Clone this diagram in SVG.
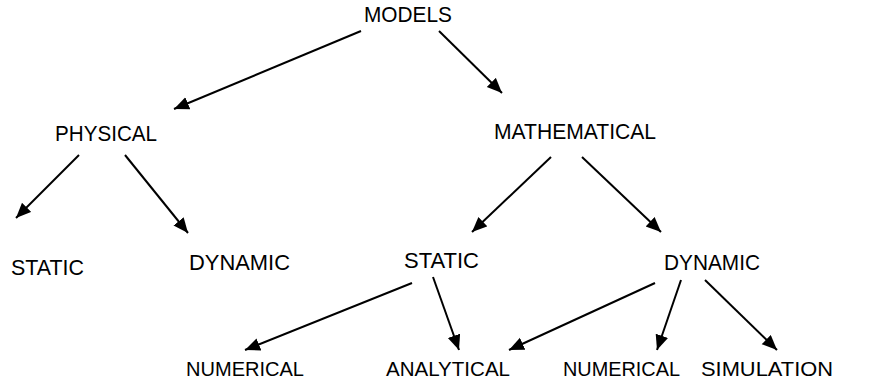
<svg xmlns="http://www.w3.org/2000/svg" width="886" height="381" viewBox="0 0 886 381">
<style>
text{font-family:"Liberation Sans",Arial,sans-serif;font-size:21.5px;fill:#000}
.b{font-size:21px}
.c line{stroke:#000;stroke-width:2;marker-end:url(#ah)}
</style>
<defs>
<marker id="ah" markerUnits="userSpaceOnUse" markerWidth="16" markerHeight="14" refX="15" refY="6.5" orient="auto">
<path d="M0,0 L15,6.5 L0,13 z" fill="#000"/>
</marker>
</defs>
<rect width="886" height="381" fill="#fff"/>
<g id="models"><text x="364" y="22" textLength="88" lengthAdjust="spacingAndGlyphs">MODELS</text></g>
<g id="physical"><text x="55" y="141" textLength="102" lengthAdjust="spacingAndGlyphs">PHYSICAL</text></g>
<g id="mathematical"><text x="494" y="139" textLength="162" lengthAdjust="spacingAndGlyphs">MATHEMATICAL</text></g>
<g id="static-phys"><text x="11" y="275" textLength="73" lengthAdjust="spacingAndGlyphs">STATIC</text></g>
<g id="dynamic-phys"><text x="189" y="270" textLength="101" lengthAdjust="spacingAndGlyphs">DYNAMIC</text></g>
<g id="static-math"><text x="404" y="268" textLength="75" lengthAdjust="spacingAndGlyphs">STATIC</text></g>
<g id="dynamic-math"><text x="664" y="270" textLength="96" lengthAdjust="spacingAndGlyphs">DYNAMIC</text></g>
<g id="numerical-1"><text class="b" x="186" y="376" textLength="118" lengthAdjust="spacingAndGlyphs">NUMERICAL</text></g>
<g id="analytical"><text class="b" x="386" y="376" textLength="124" lengthAdjust="spacingAndGlyphs">ANALYTICAL</text></g>
<g id="numerical-2"><text class="b" x="563" y="376" textLength="117" lengthAdjust="spacingAndGlyphs">NUMERICAL</text></g>
<g id="simulation"><text class="b" x="701" y="376" textLength="132" lengthAdjust="spacingAndGlyphs">SIMULATION</text></g>
<g id="connectors" class="c">
<line x1="361" y1="31" x2="174" y2="109"/>
<line x1="439" y1="31" x2="502" y2="93"/>
<line x1="79" y1="155" x2="16" y2="218"/>
<line x1="125" y1="155" x2="188" y2="233"/>
<line x1="551" y1="157" x2="472" y2="232"/>
<line x1="582" y1="157" x2="661" y2="232"/>
<line x1="412" y1="283" x2="245" y2="350"/>
<line x1="433" y1="277" x2="459" y2="350"/>
<line x1="655" y1="283" x2="509" y2="350"/>
<line x1="681" y1="280" x2="657" y2="350"/>
<line x1="705" y1="280" x2="777" y2="350"/>
</g>
</svg>
